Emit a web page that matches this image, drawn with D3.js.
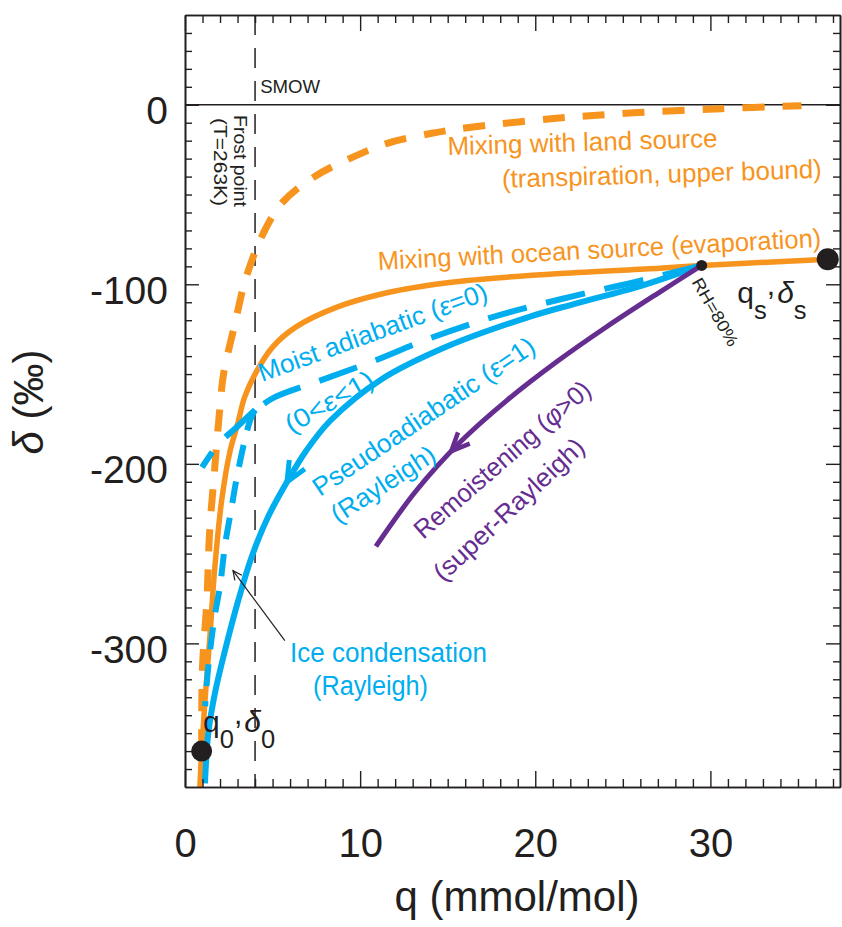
<!DOCTYPE html>
<html>
<head>
<meta charset="utf-8">
<script src="https://cdn.jsdelivr.net/npm/d3@7"></script>
<style>
  body { margin: 0; background: #fff; }
  svg { display: block; }
  text { font-family: "Liberation Sans", Arial, Helvetica, sans-serif; }
</style>
</head>
<body>
<svg id="chart" width="842" height="927"></svg>
<script>
// ---- axis extents and tick labels ----
const qLimits = [0, 37.4];
const deltaLimits = [-380, 50];
const qTickLabels = [0, 10, 20, 30];
const deltaTickLabels = [-300, -200, -100, 0];
const frostPointQ = 4;

// ---- curves, as [q (mmol/mol), δ (‰)] ----
const landMixing = [[0.95,-360],[1.0,-313],[1.25,-276],[1.4,-239],[1.7,-202],[2.0,-168],[2.2,-150],
  [2.85,-122],[3.4,-99],[4.0,-82],[4.25,-76],[5.5,-55],[7.4,-40],[9.4,-30],[11.5,-21.6],[14.1,-15.9],
  [16.1,-12.8],[20.9,-7.8],[25.6,-4.5],[30.6,-2.2],[35.2,-0.5]];
const oceanMixing = [[0.85,-380],[0.95,-360],[1.14,-332],[1.43,-295],[1.7,-258],[2.1,-220],[2.57,-193],
  [3.0,-178],[3.4,-163],[4.0,-150],[5.0,-135],[6.3,-124],[8.6,-113],[11.4,-105],[14.3,-100],[16,-98],
  [21.4,-94],[27.1,-91],[29.5,-89.5],[34.7,-87],[36.7,-86]];
const moistAdiabatic = [[29.5,-89.5],[26,-98],[22,-107],[18,-117],[14,-130],[10.7,-143],[7.6,-154],
  [5.1,-163],[4.0,-170]];
const moistBelowFrost = [[4.0,-170],[2.9,-180],[1.9,-189],[0.97,-202]];
const iceCondensation = [[4.0,-170],[3.71,-176],[3.01,-205],[2.63,-226],[2.29,-245],[2.0,-268],
  [1.66,-287],[1.31,-315],[1.15,-335]];
const pseudoAdiabatic = [[29.5,-89.5],[26,-101],[22.2,-111],[19.7,-118],[14.95,-134.7],[11.14,-153.4],
  [8.29,-176],[6.9,-193],[5.83,-210],[4.74,-229.6],[3.81,-251.7],[3.05,-275.8],[2.29,-303.7],
  [1.71,-327.7],[1.33,-350],[1.14,-378]];
const remoistening = [[29.5,-89.5],[27,-105],[24.1,-123.5],[21.3,-142.6],[18.4,-164.5],[15.7,-188],
  [13.2,-215],[10.9,-246]];

// ---- marked states ----
const initialState = [0.95, -360];   // q0, δ0
const surfaceState = [36.7, -86];    // qs, δs
const rh80State = [29.5, -89.5];     // RH = 80%

// arrow positions along the process curves (q at the arrow tip)
const pseudoArrowQ = 5.83;
const remoistArrowQ = 15.2;

// ---- drawing ----
const ORANGE = "#F7941E", BLUE = "#00AEEF", PURPLE = "#662D91", INK = "#231F20";
const svg = d3.select("#chart");

const x = d3.scaleLinear().domain(qLimits).range([185, 840]);
const y = d3.scaleLinear().domain(deltaLimits).range([787, 15]);

svg.append("clipPath").attr("id", "plot-clip")
  .append("rect").attr("x", x(qLimits[0])).attr("y", y(deltaLimits[1]))
  .attr("width", x(qLimits[1]) - x(qLimits[0])).attr("height", y(deltaLimits[0]) - y(deltaLimits[1]));

const plot = svg.append("g").attr("clip-path", "url(#plot-clip)");

// SMOW reference line and frost point
plot.append("line")
  .attr("x1", x(qLimits[0])).attr("x2", x(qLimits[1]))
  .attr("y1", y(0)).attr("y2", y(0))
  .attr("stroke", INK).attr("stroke-width", 1.4);
plot.append("line")
  .attr("x1", x(frostPointQ)).attr("x2", x(frostPointQ))
  .attr("y1", y(deltaLimits[1])).attr("y2", y(deltaLimits[0]))
  .attr("stroke", INK).attr("stroke-width", 1.5).attr("stroke-dasharray", "20,13");

const line = d3.line().x(d => x(d[0])).y(d => y(d[1])).curve(d3.curveCatmullRom.alpha(0.5));

function curve(data, color, width, dash) {
  return plot.append("path").datum(data).attr("d", line)
    .attr("fill", "none").attr("stroke", color).attr("stroke-width", width)
    .attr("stroke-dasharray", dash || null).attr("stroke-linecap", "butt");
}

curve(landMixing, ORANGE, 7, "22,18");
curve(oceanMixing, ORANGE, 5.5);
curve(moistAdiabatic, BLUE, 6, "40,20");
curve(moistBelowFrost, BLUE, 6, "40,20");
curve(iceCondensation, BLUE, 6, "22,15");
const pseudoPath = curve(pseudoAdiabatic, BLUE, 6);
const remoistPath = curve(remoistening, PURPLE, 5);

// open arrowhead sitting on a drawn path, pointing along its direction
function chevron(pathSel, qTip, color, len, spread, width) {
  const node = pathSel.node();
  const total = node.getTotalLength();
  const tx = x(qTip);
  let best = 0, bestDist = Infinity;
  for (let l = 0; l <= total; l += 0.5) {
    const p = node.getPointAtLength(l);
    const dd = Math.abs(p.x - tx);
    if (dd < bestDist) { bestDist = dd; best = l; }
  }
  const p = node.getPointAtLength(best);
  const a = node.getPointAtLength(Math.max(0, best - 4));
  const b = node.getPointAtLength(Math.min(total, best + 4));
  let dx = b.x - a.x, dy = b.y - a.y;
  const n = Math.hypot(dx, dy); dx /= n; dy /= n;
  const wing = s => {
    const c = Math.cos(s), sn = Math.sin(s);
    return [p.x - len * (dx * c - dy * sn), p.y - len * (dx * sn + dy * c)];
  };
  const w1 = wing(spread), w2 = wing(-spread);
  plot.append("path")
    .attr("d", `M${w1[0]},${w1[1]}L${p.x},${p.y}L${w2[0]},${w2[1]}`)
    .attr("fill", "none").attr("stroke", color).attr("stroke-width", width)
    .attr("stroke-linejoin", "miter").attr("stroke-miterlimit", 10);
}
chevron(pseudoPath, pseudoArrowQ, BLUE, 22, 0.42, 5);
chevron(remoistPath, remoistArrowQ, PURPLE, 20, 0.42, 4.5);

// state markers
plot.append("circle").attr("cx", x(initialState[0])).attr("cy", y(initialState[1])).attr("r", 10.5).attr("fill", INK);
plot.append("circle").attr("cx", x(surfaceState[0])).attr("cy", y(surfaceState[1])).attr("r", 11).attr("fill", INK);
plot.append("circle").attr("cx", x(rh80State[0])).attr("cy", y(rh80State[1])).attr("r", 5.5).attr("fill", INK);

// pointer to the ice condensation curve
const pFrom = [5.7, -298.5], pTo = [2.74, -259.5];
{
  const x1 = x(pFrom[0]), y1 = y(pFrom[1]), x2 = x(pTo[0]), y2 = y(pTo[1]);
  let dx = x2 - x1, dy = y2 - y1; const n = Math.hypot(dx, dy); dx /= n; dy /= n;
  svg.append("line").attr("x1", x1).attr("y1", y1).attr("x2", x2).attr("y2", y2)
    .attr("stroke", INK).attr("stroke-width", 1.2);
  const L = 10, s = 0.45;
  const w = sg => [x2 - L * (dx * Math.cos(sg) - dy * Math.sin(sg)), y2 - L * (dx * Math.sin(sg) + dy * Math.cos(sg))];
  const a = w(s), b = w(-s);
  svg.append("path").attr("d", `M${a[0]},${a[1]}L${x2},${y2}L${b[0]},${b[1]}`)
    .attr("fill", "none").attr("stroke", INK).attr("stroke-width", 1.2);
}

// ---- axes (ticks point inward on all four sides) ----
function styleAxis(g) {
  g.select(".domain").attr("stroke", INK).attr("stroke-width", 1.6);
  g.selectAll(".tick line").attr("stroke", INK).attr("stroke-width", 1.4);
  g.selectAll("text").attr("fill", INK);
}
const qMinor = d3.range(1, 38).filter(v => v % 10 !== 0 && v <= qLimits[1]);
const dMinor = d3.range(-370, 50, 10).filter(v => v % 100 !== 0);
const dMajor = d3.range(-300, 50, 100);

const bottomY = y(deltaLimits[0]), topY = y(deltaLimits[1]);
const leftX = x(qLimits[0]), rightX = x(qLimits[1]);

svg.append("g").attr("transform", `translate(0,${bottomY})`)
  .call(d3.axisBottom(x).tickValues(qMinor).tickSize(-8).tickSizeOuter(0).tickFormat(""))
  .call(styleAxis);
svg.append("g").attr("transform", `translate(0,${bottomY})`)
  .call(d3.axisBottom(x).tickValues(qTickLabels).tickSize(-16).tickSizeOuter(0).tickPadding(42).tickFormat(d3.format("d")))
  .attr("font-size", 40).attr("font-family", "Liberation Sans, Arial, sans-serif")
  .call(styleAxis);
svg.append("g").attr("transform", `translate(0,${topY})`)
  .call(d3.axisTop(x).tickValues(qMinor).tickSize(-8).tickSizeOuter(0).tickFormat(""))
  .call(styleAxis);
svg.append("g").attr("transform", `translate(0,${topY})`)
  .call(d3.axisTop(x).tickValues(qTickLabels).tickSize(-16).tickSizeOuter(0).tickFormat(""))
  .call(styleAxis);

svg.append("g").attr("transform", `translate(${leftX},0)`)
  .call(d3.axisLeft(y).tickValues(dMinor).tickSize(-7).tickSizeOuter(0).tickFormat(""))
  .call(styleAxis);
const yLab = svg.append("g").attr("transform", `translate(${leftX},0)`)
  .call(d3.axisLeft(y).tickValues(deltaTickLabels).tickSize(-14).tickSizeOuter(0).tickPadding(17).tickFormat(d3.format("d")))
  .attr("font-size", 39).attr("font-family", "Liberation Sans, Arial, sans-serif")
  .call(styleAxis);
yLab.selectAll("text").attr("dy", "0.49em").text(d => String(d));
svg.append("g").attr("transform", `translate(${rightX},0)`)
  .call(d3.axisRight(y).tickValues(dMinor).tickSize(-7).tickSizeOuter(0).tickFormat(""))
  .call(styleAxis);
svg.append("g").attr("transform", `translate(${rightX},0)`)
  .call(d3.axisRight(y).tickValues(dMajor).tickSize(-14).tickSizeOuter(0).tickFormat(""))
  .call(styleAxis);

// axis titles
svg.append("text").attr("x", 517).attr("y", 911).attr("text-anchor", "middle")
  .attr("font-size", 42).attr("fill", INK).text("q (mmol/mol)");
const yt = svg.append("text").attr("transform", "translate(43,402) rotate(-90)")
  .attr("text-anchor", "middle").attr("font-size", 42).attr("fill", INK);
yt.append("tspan").attr("font-style", "italic").text("δ");
yt.append("tspan").text(" (‰)");

// ---- annotations (anchored in data coordinates) ----
function label(q, d, rot, size, color, parts, len) {
  const t = svg.append("text")
    .attr("transform", `translate(${x(q)},${y(d)}) rotate(${rot})`)
    .attr("font-size", size).attr("fill", color);
  if (len) t.attr("textLength", len).attr("lengthAdjust", "spacingAndGlyphs");
  parts.forEach(p => {
    const [s, italic] = Array.isArray(p) ? p : [p, false];
    t.append("tspan").attr("font-style", italic ? "italic" : null).text(s);
  });
  return t;
}

label(4.29, 6.6, 0, 19, INK, ["SMOW"], 60);
label(2.8, -5.7, 90, 19, INK, ["Frost point"], 92);
label(1.66, -7.4, 90, 19, INK, ["(T=263K)"], 88);

label(15.0, -28.0, -1.7, 26, ORANGE, ["Mixing with land source"], 270);
label(18.11, -46.3, -1.8, 26, ORANGE, ["(transpiration, upper bound)"], 320);
label(11.03, -92.0, -3, 26, ORANGE, ["Mixing with ocean source (evaporation)"], 444);

label(4.4, -154.4, -20, 26, BLUE, ["Moist adiabatic (", ["ε", true], "=0)"], 242);
label(6.06, -183.4, -30, 26, BLUE, ["(0<", ["ε", true], "<1)"], 98);
label(7.71, -218.5, -34, 26, BLUE, ["Pseudoadiabatic (", ["ε", true], "=1)"], 262);
label(8.74, -233.5, -33, 26, BLUE, ["(Rayleigh)"], 119);
label(6.0, -310.4, 0, 27, BLUE, ["Ice condensation"], 197);
label(7.31, -328.8, 0, 27, BLUE, ["(Rayleigh)"], 115);

label(13.6, -242.4, -41, 26, PURPLE, ["Remoistening (", ["φ", true], ">0)"], 225);
label(14.74, -266.3, -43, 26, PURPLE, ["(super-Rayleigh)"], 196);

label(28.9, -98.7, 60, 17, INK, ["RH=80%"], 76);

// state labels with subscripts
function stateLabel(q, d, size, sub) {
  const t = svg.append("text").attr("transform", `translate(${x(q)},${y(d)})`)
    .attr("font-size", size).attr("fill", INK);
  t.append("tspan").text("q");
  t.append("tspan").attr("dy", 16).attr("font-size", size * 0.85).text(sub);
  t.append("tspan").attr("dy", -24).text(",");
  t.append("tspan").attr("dy", 8).attr("dx", 2).attr("font-style", "italic").text("δ");
  t.append("tspan").attr("dy", 16).attr("font-size", size * 0.85).text(sub);
}
stateLabel(31.54, -110.5, 30, "s");
stateLabel(1.03, -349.3, 30, "0");
</script>
</body>
</html>
